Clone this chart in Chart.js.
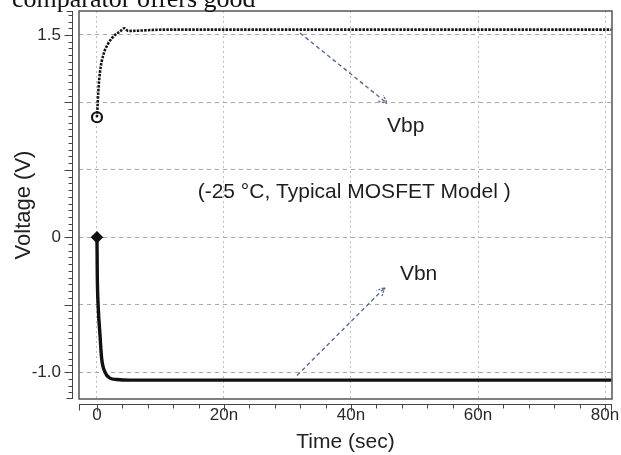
<!DOCTYPE html>
<html><head><meta charset="utf-8">
<script src="https://cdn.jsdelivr.net/npm/chart.js@4"></script>
<style>
html,body{margin:0;padding:0;background:#fff;}
#wrap{position:relative;width:621px;height:455px;overflow:hidden;}
#cap{position:absolute;left:12px;top:-14px;font:26px/26px 'Liberation Serif','Times New Roman',serif;color:#111;white-space:nowrap;}
canvas{position:absolute;left:0;top:0;}
</style></head><body>
<div id="wrap"><canvas id="c" width="621" height="455"></canvas><div id="cap">comparator offers good</div></div>
<script>
// ---- data (time in ns, voltage in V) ----
const vbpTime = [0, 0.1, 0.2, 0.47, 0.99, 1.78, 2.83, 3.62, 4.3, 4.93, 6.46, 8.6, 10.7, 13.3, 81];
const vbpVolt = [0.89, 0.98, 1.075, 1.225, 1.35, 1.438, 1.5, 1.525, 1.55, 1.53, 1.532, 1.537, 1.54, 1.54, 1.54];
const vbnTime = [0, 0.05, 0.2, 0.47, 0.74, 1.26, 2.05, 3.1, 5.2, 81];
const vbnVolt = [0, -0.28, -0.52, -0.72, -0.9, -1.0, -1.045, -1.055, -1.06, -1.06];
const xTickValues = [0, 20, 40, 60, 80];
const xTickLabels = ['0', '20n', '40n', '60n', '80n'];
const yGridValues = [-1.0, -0.5, 0, 0.5, 1.0, 1.5];
const yTickLabels = ['-1.0', '', '0', '', '', '1.5'];
const xRange = [-2.83, 81.1];
const yRange = [-1.2, 1.678];
// annotations in data coordinates
const noteTexts = ['Vbp', 'Vbn', '(-25 \u00B0C, Typical MOSFET Model )'];
const notePos = [[45.67, 0.778, 'left'], [47.7, -0.32, 'left'], [40.5, 0.293, 'center']];
const arrowFrom = [[31.97, 1.515], [31.5, -1.025]];
const arrowTo = [[45.7, 0.993], [45.35, -0.373]];

const FONT = "'Liberation Sans', Arial, sans-serif";

const toXY = (ts, vs) => ts.map((t, i) => ({x: t, y: vs[i]}));

const framePlugin = {
  id: 'frame',
  afterDraw(chart) {
    const {ctx, chartArea: a, scales: {x, y}} = chart;
    ctx.save();
    ctx.setLineDash([]);
    // plot box
    ctx.strokeStyle = '#555';
    ctx.lineWidth = 1.5;
    ctx.strokeRect(a.left, a.top, a.right - a.left, a.bottom - a.top);
    // y axis line + ticks
    ctx.strokeStyle = '#444';
    ctx.lineWidth = 1;
    const ax = a.left - 6.5;
    ctx.beginPath();
    ctx.moveTo(ax, a.top); ctx.lineTo(ax, a.bottom);
    for (let k = Math.ceil(yRange[0] / 0.05); k * 0.05 <= yRange[1]; k++) {
      const v = k * 0.05;
      const py = Math.round(y.getPixelForValue(v)) + 0.5;
      const major = (k % 10 === 0);
      ctx.moveTo(ax, py); ctx.lineTo(ax - (major ? 8 : 4), py);
    }
    ctx.moveTo(ax, a.top + 0.5); ctx.lineTo(ax - 6, a.top + 0.5);
    ctx.moveTo(ax, a.bottom - 0.5); ctx.lineTo(ax - 6, a.bottom - 0.5);
    // x axis line + ticks
    const ay = a.bottom + 5.5;
    ctx.moveTo(a.left, ay); ctx.lineTo(a.right, ay);
    for (let t = 0; t <= xRange[1]; t += 4) {
      const px = Math.round(x.getPixelForValue(t)) + 0.5;
      const major = (t % 20 === 0);
      ctx.moveTo(px, ay); ctx.lineTo(px, ay + (major ? 7 : 4));
    }
    ctx.moveTo(a.left + 0.5, ay); ctx.lineTo(a.left + 0.5, ay + 6);
    ctx.moveTo(a.right - 0.5, ay); ctx.lineTo(a.right - 0.5, ay + 6);
    ctx.stroke();
    ctx.restore();
  }
};

const notePlugin = {
  id: 'notes',
  afterDatasetsDraw(chart) {
    const {ctx, scales: {x, y}} = chart;
    ctx.save();
    ctx.strokeStyle = '#5a6a8c';
    ctx.lineWidth = 1.4;
    arrowFrom.forEach((f, i) => {
      const x0 = x.getPixelForValue(f[0]), y0 = y.getPixelForValue(f[1]);
      const x1 = x.getPixelForValue(arrowTo[i][0]), y1 = y.getPixelForValue(arrowTo[i][1]);
      ctx.setLineDash([4, 3]);
      ctx.beginPath(); ctx.moveTo(x0, y0); ctx.lineTo(x1, y1); ctx.stroke();
      const ang = Math.atan2(y1 - y0, x1 - x0);
      ctx.setLineDash([2, 1.5]);
      ctx.beginPath();
      ctx.moveTo(x1 - 9 * Math.cos(ang - 0.45), y1 - 9 * Math.sin(ang - 0.45));
      ctx.lineTo(x1, y1);
      ctx.lineTo(x1 - 9 * Math.cos(ang + 0.45), y1 - 9 * Math.sin(ang + 0.45));
      ctx.stroke();
    });
    ctx.setLineDash([]);
    ctx.fillStyle = '#1e1e1e';
    ctx.font = '21px ' + FONT;
    ctx.textBaseline = 'alphabetic';
    noteTexts.forEach((s, i) => {
      const p = notePos[i];
      ctx.textAlign = p[2];
      ctx.fillText(s, x.getPixelForValue(p[0]), y.getPixelForValue(p[1]));
    });
    ctx.restore();
  }
};

const noPad = s => { s.paddingTop = 0; s.paddingBottom = 0; s.paddingLeft = 0; s.paddingRight = 0; };

new Chart(document.getElementById('c'), {
  type: 'line',
  data: {
    datasets: [
      {
        label: 'Vbp',
        data: toXY(vbpTime, vbpVolt),
        borderColor: '#151515',
        borderWidth: 2.6,
        borderDash: [2.5, 1.2],
        cubicInterpolationMode: 'monotone',
        pointRadius: c => c.dataIndex === 0 ? 5 : 0,
        pointStyle: 'circle',
        pointBorderWidth: 2.2,
        pointBorderColor: '#151515',
        pointBackgroundColor: 'rgba(255,255,255,0)',
        fill: false
      },
      {
        label: 'Vbn',
        data: toXY(vbnTime, vbnVolt),
        borderColor: '#111',
        borderWidth: 3.4,
        cubicInterpolationMode: 'monotone',
        pointRadius: c => c.dataIndex === 0 ? 4.5 : 0,
        pointStyle: 'rectRot',
        pointBorderWidth: 2.5,
        pointBorderColor: '#111',
        pointBackgroundColor: '#111',
        fill: false
      }
    ]
  },
  options: {
    responsive: false,
    animation: false,
    events: [],
    layout: {padding: {top: 11, right: 9, left: 0, bottom: 0}},
    plugins: {legend: {display: false}, tooltip: {enabled: false}, title: {display: false}},
    scales: {
      x: {
        type: 'linear',
        min: xRange[0], max: xRange[1],
        afterBuildTicks: s => { s.ticks = xTickValues.map(v => ({value: v})); },
        afterFit: s => { s.height = 56; noPad(s); },
        ticks: {
          autoSkip: false, maxRotation: 0, padding: 6,
          color: '#2a2a2a', font: {family: FONT, size: 17},
          callback: v => { const i = xTickValues.indexOf(v); return i >= 0 ? xTickLabels[i] : ''; }
        },
        grid: {color: '#bdbdbd', lineWidth: 1, drawTicks: false},
        border: {display: false, dash: [2, 3]},
        title: {display: true, text: 'Time (sec)', color: '#222', font: {family: FONT, size: 21}, padding: {top: 0, bottom: 0}}
      },
      y: {
        type: 'linear',
        min: yRange[0], max: yRange[1],
        afterBuildTicks: s => { s.ticks = yGridValues.map(v => ({value: v})); },
        afterFit: s => { s.width = 79; noPad(s); },
        ticks: {
          autoSkip: false, padding: 18,
          color: '#2a2a2a', font: {family: FONT, size: 17},
          callback: v => { const i = yGridValues.indexOf(v); return i >= 0 ? yTickLabels[i] : ''; }
        },
        grid: {color: '#a8a8a8', lineWidth: 1, drawTicks: false},
        border: {display: false, dash: [4, 4]},
        title: {display: true, text: 'Voltage (V)', color: '#222', font: {family: FONT, size: 22}, padding: {top: 11, bottom: 0}}
      }
    }
  },
  plugins: [framePlugin, notePlugin]
});
</script>
</body></html>
